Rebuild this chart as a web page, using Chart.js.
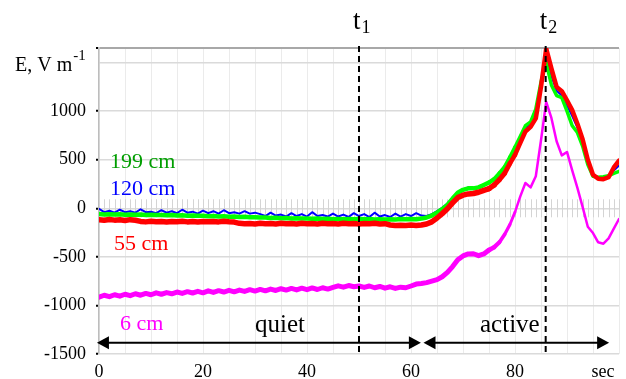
<!DOCTYPE html>
<html>
<head>
<meta charset="utf-8">
<script src="https://cdn.jsdelivr.net/npm/chart.js@4"></script>
<style>
  html, body { margin: 0; padding: 0; background: #fff; }
  canvas { display: block; }
</style>
</head>
<body>
<canvas id="fieldChart" width="626" height="379"></canvas>
<script>
// sample times, one reading per second
const seconds = Array.from({ length: 101 }, (_, i) => i);

// electric field (V/m) at each sensor height
const e199 = [
  -60, -64, -61, -65, -62, -66, -63, -67, -64, -68,
  -66, -70, -68, -72, -70, -74, -72, -76, -74, -78,
  -78, -82, -80, -84, -83, -87, -85, -89, -88, -92,
  -92, -96, -95, -99, -98, -102, -100, -104, -102, -106,
  -104, -108, -106, -110, -108, -112, -109, -113, -110, -114,
  -110, -114, -111, -115, -112, -116, -112, -115, -111, -114,
  -110, -112, -106, -95, -75, -45, -10, 35, 100, 160,
  190, 205, 205, 215, 240, 265, 300, 360, 425, 525,
  630, 740, 850, 890, 1020, 1300, 1500, 1270, 1160, 1140,
  1000, 850, 780, 640, 450, 330, 320, 325, 335, 360,
  380
];
const e120 = [
  -5, -40, -25, -45, -15, -40, -30, -45, -10, -40,
  -35, -50, -20, -45, -30, -50, -15, -45, -35, -55,
  -25, -50, -30, -55, -20, -50, -40, -55, -30, -55,
  -45, -60, -80, -45, -75, -65, -85, -50, -80, -60,
  -85, -40, -80, -70, -85, -55, -85, -65, -90, -50,
  -80, -60, -90, -45, -85, -70, -90, -55, -85, -60,
  -80, -50, -75, -80, -60, -30, 5, 50, 105, 160,
  195, 215, 210, 220, 240, 262, 300, 350, 420, 510,
  610, 720, 830, 870, 1000, 1290, 1580, 1360, 1210, 1160,
  1060, 950, 830, 680, 470, 345, 310, 315, 330, 390,
  440
];
const e55 = [
  -118, -124, -116, -122, -119, -125, -117, -123, -135, -140,
  -134, -139, -136, -141, -135, -138, -134, -140, -137, -141,
  -135, -139, -136, -140, -134, -139, -142, -155, -160, -156,
  -161, -154, -159, -157, -162, -155, -160, -156, -161, -154,
  -158, -157, -162, -155, -160, -156, -161, -155, -159, -157,
  -162, -156, -160, -155, -161, -158, -172, -178, -174, -177,
  -173, -176, -172, -162, -140, -100, -55, -5, 55, 110,
  135, 148, 152, 165, 185, 202, 240, 295, 360, 460,
  550, 672, 790, 838, 925, 1250, 1645, 1440, 1250, 1205,
  1110, 1010, 870, 710, 500, 345, 305, 300, 320, 420,
  490
];
const e6 = [
  -915, -895, -910, -890, -905, -885, -900, -880, -895, -876,
  -890, -870, -885, -868, -880, -862, -876, -858, -872, -855,
  -870, -850, -866, -848, -862, -845, -860, -842, -856, -838,
  -852, -835, -850, -832, -846, -828, -842, -825, -840, -822,
  -838, -820, -836, -818, -832, -815, -798, -812, -795, -808,
  -800, -815, -800, -818, -805, -822, -808, -825, -812, -818,
  -800, -780, -775, -765, -750, -735, -705, -660, -600, -530,
  -490, -470, -468, -488, -470, -430, -400, -350, -270, -170,
  -40, 120, 260, 215, 330, 700, 1095, 930, 690, 545,
  580, 390, 210, 15, -190, -255, -350, -365, -310, -210,
  -110
];

const seriesNames = ['199 cm', '120 cm', '55 cm', '6 cm'];

// axis ticks
const xTickValues = [0, 5, 10, 15, 20, 25, 30, 35, 40, 45, 50, 55, 60, 65, 70, 75, 80, 85, 90, 95, 100];
const xLabelValues = [0, 20, 40, 60, 80];
const xUnit = 'sec';
const yTickValues = [-1500, -1000, -500, 0, 500, 1000, 1500, 1650];
const yLabelValues = [-1500, -1000, -500, 0, 500, 1000];
const yUnit = 'E, V m';
const yUnitPower = '-1';

// event markers and phases
const markTimes = [50, 85.9];
const markIndex = ['1', '2'];
const phaseSpans = [[-0.4, 61.9], [62.4, 98.1]];
const phaseNames = ['quiet', 'active'];
const phaseArrowLevel = -1385;

const FONT = "'Liberation Serif', 'Times New Roman', serif";

function toPoints(values) {
  return values.map((v, i) => ({ x: seconds[i], y: v }));
}

function lineSet(label, values, color, width, steepWidth) {
  const set = {
    label: label,
    data: toPoints(values),
    borderColor: color,
    borderWidth: width,
    borderJoinStyle: 'round',
    borderCapStyle: 'round',
    pointRadius: 0,
    tension: 0,
    fill: false
  };
  // the noisy band looks thinner once the trace climbs steeply
  if (steepWidth) {
    set.segment = {
      borderWidth: c => {
        const t = c.p0.parsed.x;
        if (t <= 74) return width;
        if (t >= 80) return steepWidth;
        return width + (steepWidth - width) * (t - 74) / 6;
      }
    };
  }
  return set;
}

function drawArrow(ctx, x1, x2, y) {
  const head = 12, half = 6.5;
  ctx.beginPath();
  ctx.moveTo(x1 + head - 1, y);
  ctx.lineTo(x2 - head + 1, y);
  ctx.stroke();
  ctx.beginPath();
  ctx.moveTo(x1, y);
  ctx.lineTo(x1 + head, y - half);
  ctx.lineTo(x1 + head, y + half);
  ctx.closePath();
  ctx.fill();
  ctx.beginPath();
  ctx.moveTo(x2, y);
  ctx.lineTo(x2 - head, y - half);
  ctx.lineTo(x2 - head, y + half);
  ctx.closePath();
  ctx.fill();
}

// short ticks across the zero line, one per second
const zeroTicks = {
  id: 'zeroTicks',
  beforeDatasetsDraw(chart) {
    const { ctx, scales: { x, y } } = chart;
    const y0 = y.getPixelForValue(0);
    ctx.save();
    ctx.strokeStyle = '#d4d4d4';
    ctx.lineWidth = 1;
    seconds.forEach(s => {
      const px = Math.round(x.getPixelForValue(s)) + 0.5;
      ctx.beginPath();
      ctx.moveTo(px, y0 - 9);
      ctx.lineTo(px, y0 + 9);
      ctx.stroke();
    });
    ctx.restore();
  }
};

// t1/t2 markers, phase arrows and all free text
const annotations = {
  id: 'annotations',
  afterDatasetsDraw(chart) {
    const { ctx, chartArea, scales: { x, y } } = chart;
    ctx.save();

    ctx.strokeStyle = '#000';
    ctx.lineWidth = 2;
    ctx.setLineDash([6, 4]);
    markTimes.forEach(t => {
      const px = x.getPixelForValue(t);
      ctx.beginPath();
      ctx.moveTo(px, chartArea.top - 2);
      ctx.lineTo(px, chartArea.bottom);
      ctx.stroke();
    });
    ctx.setLineDash([]);

    ctx.fillStyle = '#000';
    const ay = y.getPixelForValue(phaseArrowLevel);
    phaseSpans.forEach(span => {
      drawArrow(ctx, x.getPixelForValue(span[0]), x.getPixelForValue(span[1]), ay);
    });

    ctx.textBaseline = 'alphabetic';
    ctx.textAlign = 'left';

    // marker names
    markTimes.forEach((t, i) => {
      const px = x.getPixelForValue(t);
      ctx.font = '27px ' + FONT;
      ctx.fillText('t', px - 6, 29);
      const w = ctx.measureText('t').width;
      ctx.font = '18px ' + FONT;
      ctx.fillText(markIndex[i], px - 6 + w + 1, 33);
    });

    // axis unit
    ctx.font = '20px ' + FONT;
    ctx.fillText(yUnit, 15, 71);
    const uw = ctx.measureText(yUnit).width;
    ctx.font = '15px ' + FONT;
    ctx.fillText(yUnitPower, 15 + uw + 1, 60);

    ctx.font = '18px ' + FONT;
    ctx.textAlign = 'center';
    ctx.fillText(xUnit, 603, 377);

    // series names
    ctx.textAlign = 'left';
    ctx.font = '22px ' + FONT;
    ctx.fillStyle = '#009e00';
    ctx.fillText(seriesNames[0], 110, 168);
    ctx.fillStyle = '#0000ff';
    ctx.fillText(seriesNames[1], 110, 195);
    ctx.fillStyle = '#ff0000';
    ctx.fillText(seriesNames[2], 114, 250);
    ctx.fillStyle = '#ff00ff';
    ctx.fillText(seriesNames[3], 120, 330);

    // phase names
    ctx.fillStyle = '#000';
    ctx.font = '25px ' + FONT;
    ctx.fillText(phaseNames[0], 255, 332);
    ctx.fillText(phaseNames[1], 480, 332);

    ctx.restore();
  }
};

new Chart(document.getElementById('fieldChart'), {
  type: 'line',
  data: {
    datasets: [
      lineSet(seriesNames[2], e55, '#ff0000', 5.5, 4.5),
      lineSet(seriesNames[0], e199, '#00ff00', 4.5, 3.5),
      lineSet(seriesNames[1], e120, '#0000ff', 2),
      lineSet(seriesNames[3], e6, '#ff00ff', 5, 2.5)
    ]
  },
  options: {
    responsive: false,
    animation: false,
    devicePixelRatio: 1,
    layout: { padding: { left: 0, top: 48, right: 4, bottom: 0 } },
    plugins: {
      legend: { display: false },
      tooltip: { enabled: false }
    },
    scales: {
      x: {
        type: 'linear',
        min: 0,
        max: 100,
        afterBuildTicks: scale => { scale.ticks = xTickValues.map(v => ({ value: v })); },
        afterFit: scale => { scale.height = 25; },
        border: { display: false },
        grid: { color: '#ebebeb', lineWidth: 1, drawTicks: false },
        ticks: {
          autoSkip: false,
          maxRotation: 0,
          padding: 7,
          color: '#000',
          font: { family: FONT, size: 18 },
          callback: v => xLabelValues.includes(v) ? String(v) : ''
        }
      },
      y: {
        min: -1500,
        max: 1650,
        afterBuildTicks: scale => { scale.ticks = yTickValues.map(v => ({ value: v })); },
        afterFit: scale => { scale.width = 99; },
        border: { display: true, color: '#bdbdbd', width: 1.5 },
        grid: {
          color: c => (c.tick && c.tick.value === 1650) ? '#a8a8a8' : '#dadada',
          lineWidth: c => (c.tick && c.tick.value === 1650) ? 2 : 1.5,
          tickColor: c => (c.tick && c.tick.value === 1500) ? 'rgba(0,0,0,0)' : '#000',
          tickLength: 3,
          tickWidth: 2
        },
        ticks: {
          padding: 10,
          color: '#000',
          font: { family: FONT, size: 18 },
          callback: v => yLabelValues.includes(v) ? String(v) : ''
        }
      }
    }
  },
  plugins: [zeroTicks, annotations]
});
</script>
</body>
</html>
